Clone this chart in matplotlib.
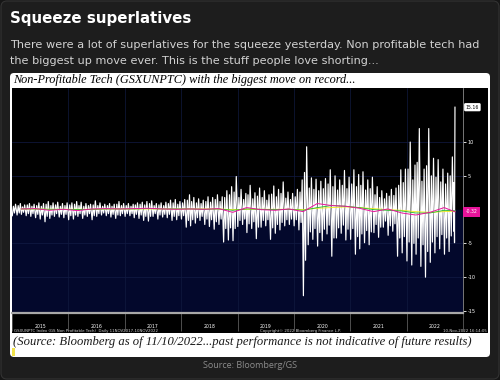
import matplotlib
matplotlib.use("Agg")
import matplotlib.pyplot as plt
import matplotlib.dates as mdates
from matplotlib.patches import FancyBboxPatch, Rectangle
import pandas as pd


# monthly extremes of the 1-day % change, Jan 2015 .. Nov 2022
monthly_high = [
    0.8, 0.9, 0.7, 0.9, 0.8, 1.0, 0.9, 1.2, 1.0, 1.1, 0.9, 1.0,      # 2015
    1.0, 1.2, 1.1, 0.9, 0.8, 1.3, 1.0, 0.8, 0.9, 0.8, 1.2, 0.9,      # 2016
    0.9, 0.8, 1.0, 1.1, 1.2, 1.3, 0.9, 1.0, 1.1, 1.4, 1.5, 1.2,      # 2017
    1.5, 2.2, 1.8, 1.6, 1.4, 1.9, 1.8, 2.2, 1.9, 2.8, 3.4, 4.9,      # 2018
    3.0, 2.4, 3.6, 2.5, 3.2, 2.8, 2.2, 3.5, 3.0, 4.1, 2.6, 2.4,      # 2019
    3.0, 4.4, 9.3, 4.7, 4.5, 4.2, 4.6, 5.9, 5.0, 4.4, 5.8, 4.8,      # 2020
    5.9, 5.2, 5.6, 4.4, 4.8, 3.4, 2.8, 2.4, 3.0, 3.2, 5.9, 6.0,      # 2021
    10.0, 6.6, 12.0, 6.0, 12.0, 7.6, 7.4, 6.0, 5.4, 7.8, 15.16,      # 2022
]
monthly_low = [
    -0.9, -0.8, -0.7, -0.9, -1.0, -1.2, -1.4, -1.8, -1.3, -1.0, -1.1, -1.2,
    -1.5, -1.4, -1.0, -1.3, -1.0, -1.5, -1.0, -0.8, -0.9, -1.1, -1.3, -0.9,
    -1.0, -0.9, -1.2, -1.3, -1.6, -1.7, -1.0, -1.4, -1.1, -1.2, -1.6, -1.5,
    -1.4, -2.6, -2.4, -2.0, -1.6, -2.2, -2.5, -2.9, -2.2, -4.8, -4.5, -4.6,
    -2.5, -2.2, -3.4, -2.8, -4.3, -2.6, -2.4, -4.4, -3.5, -3.0, -2.4, -2.2,
    -2.4, -3.0, -12.74, -5.2, -4.4, -5.4, -4.6, -3.6, -6.9, -4.2, -3.5, -4.5,
    -4.4, -6.6, -5.8, -4.9, -5.2, -3.4, -4.1, -2.6, -3.8, -3.2, -6.9, -6.4,
    -7.6, -8.2, -6.6, -8.4, -10.0, -7.8, -6.4, -5.8, -6.6, -6.2, -4.9,
]
# second-largest up / down swing inside each month
monthly_high2 = [
    0.5, 0.6, 0.4, 0.7, 0.5, 0.6, 0.5, 0.8, 0.6, 0.7, 0.5, 0.6,
    0.7, 0.8, 0.6, 0.5, 0.6, 0.7, 0.6, 0.5, 0.6, 0.5, 0.8, 0.6,
    0.6, 0.5, 0.7, 0.8, 0.7, 0.9, 0.6, 0.7, 0.6, 0.9, 1.0, 0.8,
    1.0, 1.4, 1.2, 1.0, 0.9, 1.2, 1.1, 1.5, 1.2, 1.8, 2.2, 2.6,
    1.8, 1.5, 2.2, 1.6, 2.0, 1.8, 1.4, 2.3, 1.9, 2.4, 1.7, 1.5,
    1.9, 2.6, 5.5, 3.2, 3.0, 2.8, 3.1, 3.8, 3.4, 2.9, 3.6, 3.1,
    3.8, 3.4, 3.6, 2.9, 3.1, 2.2, 1.8, 1.6, 2.0, 2.1, 3.6, 4.0,
    6.0, 4.4, 7.0, 4.2, 6.5, 5.0, 4.8, 4.1, 3.8, 5.0, 4.0,
]
monthly_low2 = [
    -0.5, -0.5, -0.4, -0.6, -0.6, -0.7, -0.8, -1.0, -0.8, -0.6, -0.7, -0.7,
    -0.9, -0.8, -0.6, -0.8, -0.6, -0.9, -0.6, -0.5, -0.6, -0.7, -0.8, -0.6,
    -0.6, -0.6, -0.7, -0.8, -1.0, -1.0, -0.6, -0.8, -0.7, -0.7, -1.0, -0.9,
    -0.9, -1.6, -1.5, -1.2, -1.0, -1.4, -1.5, -1.8, -1.4, -2.8, -2.7, -2.8,
    -1.6, -1.4, -2.1, -1.8, -2.6, -1.6, -1.5, -2.7, -2.2, -1.9, -1.5, -1.4,
    -1.5, -1.9, -7.5, -3.3, -2.8, -3.4, -2.9, -2.3, -4.2, -2.7, -2.3, -2.9,
    -2.8, -4.0, -3.6, -3.1, -3.3, -2.2, -2.6, -1.7, -2.4, -2.1, -4.2, -4.0,
    -4.8, -5.0, -4.2, -5.2, -6.2, -4.8, -4.0, -3.7, -4.2, -3.9, -3.2,
]

# quarterly moving averages, Q1 2015 .. Q4 2022
sma50 = [0.1, 0.15, -0.1, 0.05, -0.15, 0.1, 0.15, 0.1, 0.15, 0.2, 0.1, 0.05,
         0.1, 0.05, 0.15, -0.4, 0.3, 0.0, -0.1, 0.1, -0.3, 0.9, 0.6, 0.5,
         0.2, -0.3, 0.1, -0.5, -0.8, -0.4, 0.3, -0.32]
sma100 = [0.1, 0.1, 0.05, 0.05, 0.0, 0.05, 0.1, 0.1, 0.1, 0.15, 0.1, 0.1,
          0.1, 0.05, 0.1, -0.1, 0.1, 0.05, 0.0, 0.05, -0.1, 0.3, 0.6, 0.5,
          0.3, 0.0, -0.1, -0.2, -0.5, -0.5, -0.1, -0.17]
sma200 = [0.1, 0.1, 0.05, 0.05, 0.05, 0.05, 0.1, 0.1, 0.1, 0.1, 0.1, 0.1,
          0.1, 0.1, 0.1, 0.0, 0.05, 0.05, 0.05, 0.05, 0.0, 0.2, 0.3, 0.4,
          0.3, 0.15, 0.0, -0.1, -0.3, -0.4, -0.3, -0.23]

years = ["2015", "2016", "2017", "2018", "2019", "2020", "2021", "2022"]
right_ticks = [-15, -10, -5, 5, 10]

legend_rows = [
    ("Price Change 1 Day Percent", "15.16", "white", True),
    ("High on 11/10/22", "15.16", None, True),
    ("Average", "0.03", None, True),
    ("Low on 03/16/20", "-12.74", None, True),
    ("SMAVG (50)", "-0.32", "#e8149b", False),
    ("SMAVG (100)", "-0.17", "#22b82a", False),
    ("SMAVG (200)", "-0.23", "#f2ee12", False),
]

# ---- dates for the series: four swings per month ----
month_start = pd.date_range("2015-01-01", periods=len(monthly_high), freq="MS")
dates, values = [], []
for i, ms in enumerate(month_start):
    pts = [(2, monthly_low[i]), (9, monthly_high2[i]),
           (16, monthly_low2[i]), (23, monthly_high[i])]
    if i == len(month_start) - 1:
        pts = [(1, monthly_low2[i]), (3, monthly_high2[i]),
               (6, monthly_low[i]), (9, monthly_high[i])]
    for off, v in pts:
        dates.append(ms + pd.Timedelta(days=off))
        values.append(v)

q_dates = list(pd.date_range("2015-02-15", periods=len(sma50), freq="3MS"))
q_dates[-1] = pd.Timestamp("2022-11-10")

# ---- figure ----
W, H = 500, 380
fig = plt.figure(figsize=(5, 3.8), dpi=100, facecolor="#161616")

bg = fig.add_axes([0, 0, 1, 1])
bg.set_xlim(0, W)
bg.set_ylim(H, 0)
bg.axis("off")

bg.add_patch(FancyBboxPatch((1, 1), 498, 378, boxstyle="round,pad=0,rounding_size=6",
                            fc="#1d1d1d", ec="#333333", lw=0.8))
bg.text(10, 18, "Squeeze superlatives", color="white", fontsize=10.8,
        fontweight="bold", family="DejaVu Sans", va="center", ha="left")
bg.text(10, 45, "There were a lot of superlatives for the squeeze yesterday. Non profitable tech had",
        color="#d2d2d2", fontsize=8.1, family="DejaVu Sans", va="center", ha="left")
bg.text(10, 61, "the biggest up move ever. This is the stuff people love shorting...",
        color="#d2d2d2", fontsize=8.1, family="DejaVu Sans", va="center", ha="left")

# white card
bg.add_patch(FancyBboxPatch((10, 73), 480, 284, boxstyle="round,pad=0,rounding_size=4",
                            fc="white", ec="none"))
bg.text(13, 80, "Non-Profitable Tech (GSXUNPTC) with the biggest move on record...",
        color="black", fontsize=8.8, family="Liberation Serif", style="italic",
        va="center", ha="left")
bg.text(13, 342, "(Source: Bloomberg as of 11/10/2022...past performance is not indicative of future results)",
        color="#1a1a1a", fontsize=9.1, family="Liberation Serif", style="italic",
        va="center", ha="left")
bg.add_patch(Rectangle((12, 348), 3, 8, fc="#f2e34a", ec="none"))
bg.text(250, 366, "Source: Bloomberg/GS", color="#8c8c8c", fontsize=6.5,
        family="Open Sans", va="center", ha="center")

# bloomberg panel
bg.add_patch(Rectangle((12, 88), 476, 245, fc="black", ec="none"))
bg.text(14, 331, "GSXUNPTC Index (GS Non Profitable Tech)  Daily 11NOV2017-10NOV2022",
        color="#cfcfcf", fontsize=2.8, va="center", ha="left")
bg.text(300, 331, "Copyright\u00a9 2022 Bloomberg Finance L.P.",
        color="#cfcfcf", fontsize=2.8, va="center", ha="center")
bg.text(487, 331, "10-Nov-2022 16:14:05", color="#cfcfcf", fontsize=2.8,
        va="center", ha="right")

# legend block
row_y = [96, 100.3, 104.3, 108.3, 112.5, 116.8, 121.2]
bg.plot([17, 17], [92, 123], color="#555555", lw=0.4)
for (label, val, sq, boxed), y in zip(legend_rows, row_y):
    if sq is not None:
        bg.add_patch(Rectangle((20.5, y - 1.6), 3, 3, fc=sq, ec="none"))
    else:
        bg.plot([20.8, 22.3], [y, y], color="#888888", lw=0.4)
    if boxed:
        bg.text(26, y, label, color="black", fontsize=3.2, va="center", ha="left",
                bbox=dict(boxstyle="square,pad=0.15", fc="#e8e8e8", ec="none"))
    else:
        bg.text(26, y, label, color="white", fontsize=3.2, va="center", ha="left")
    bg.text(101, y, val, color="white", fontsize=3.2, va="center", ha="right")

# ---- chart axes ----
ax = fig.add_axes([12 / W, 1 - 313 / H, (463 - 12) / W, (313 - 88) / H])
ax.set_facecolor("black")
ax.set_xlim(pd.Timestamp("2015-01-01"), pd.Timestamp("2023-01-01"))
ax.set_ylim(-15.3, 18.0)
ax.axhspan(-15.3, 0, color="#03082c", zorder=0)

for y in [-10, -5, 5, 10]:
    ax.axhline(y, color="#121b45", lw=0.5, zorder=0.5)
for yr in range(2016, 2023):
    ax.axvline(pd.Timestamp(f"{yr}-01-01"), color="#111a40", lw=0.5, zorder=0.5)

ax.plot(dates, values, color="white", lw=0.85, zorder=2)
ax.plot(q_dates, sma200, color="#f2ee12", lw=0.6, zorder=3)
ax.plot(q_dates, sma100, color="#22b82a", lw=0.6, zorder=3)
ax.plot(q_dates, sma50, color="#e8149b", lw=0.7, zorder=4)

for s in ["top", "left"]:
    ax.spines[s].set_visible(False)
ax.spines["right"].set_color("#8a8a8a")
ax.spines["right"].set_linewidth(0.6)
ax.spines["bottom"].set_color("#a8a8a8")
ax.spines["bottom"].set_linewidth(1.6)

ax.yaxis.tick_right()
ax.set_yticks(right_ticks)
ax.set_yticklabels([str(t) for t in right_ticks])
ax.tick_params(axis="y", colors="white", labelsize=3.5, length=2, width=0.6, pad=1.5)

ax.xaxis.set_major_locator(mdates.YearLocator(month=1, day=1))
ax.xaxis.set_major_formatter(plt.NullFormatter())
ax.set_xticks([pd.Timestamp(f"{y}-07-02") for y in years], labels=years, minor=True)
ax.tick_params(axis="x", which="major", colors="#6e6e6e", length=13, width=0.5)
ax.tick_params(axis="x", which="minor", length=0, labelsize=3.3, labelcolor="white", pad=8)

# value tags on the right axis
ax.text(1.006, 15.16, "15.16", transform=ax.get_yaxis_transform(), color="black",
        fontsize=3.3, va="center", ha="left",
        bbox=dict(boxstyle="round,pad=0.35,rounding_size=0.3", fc="white", ec="none"))
ax.text(1.006, -0.32, "-0.32", transform=ax.get_yaxis_transform(), color="white",
        fontsize=3.3, va="center", ha="left",
        bbox=dict(boxstyle="square,pad=0.5", fc="#e8149b", ec="none"))

fig.savefig("out.png", dpi=100, facecolor=fig.get_facecolor())
